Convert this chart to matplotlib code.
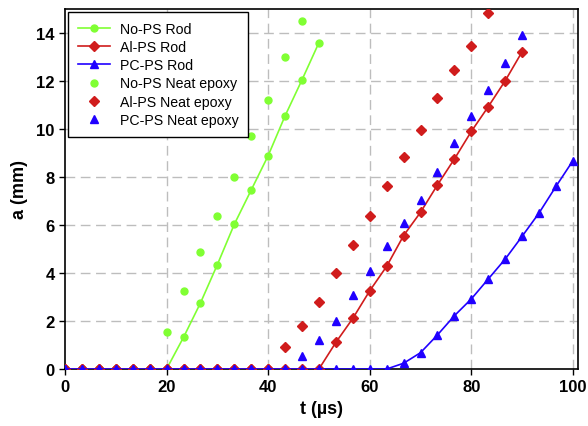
import matplotlib
matplotlib.use("Agg")
import matplotlib.pyplot as plt
import numpy as np

plt.rcParams['font.family'] = ['Liberation Sans', 'DejaVu Sans']

dt = 10.0 / 3.0

# No-PS Rod
nops_rod_t = [i * dt for i in range(16)]
nops_rod_a = [0, 0, 0, 0, 0, 0, 0, 1.32, 2.75, 4.35, 6.03, 7.46, 8.89, 10.55, 12.05, 13.6]
# Al-PS Rod
alps_rod_t = [i * dt for i in range(28)]
alps_rod_a = [0] * 16 + [1.11, 2.11, 3.26, 4.28, 5.56, 6.53, 7.67, 8.75, 9.9, 10.93, 12.01, 13.22]
# PC-PS Rod
pcps_rod_t = [i * dt for i in range(31)]
pcps_rod_a = [0] * 20 + [0.24, 0.68, 1.42, 2.22, 2.92, 3.75, 4.58, 5.53, 6.5, 7.61, 8.68]

# Neat epoxy
nops_neat_t = [i * dt for i in range(15)]
nops_neat_a = [0, 0, 0, 0, 0, 0, 1.55, 3.25, 4.86, 6.37, 7.99, 9.7, 11.2, 13.0, 14.5]
alps_neat_t = [i * dt for i in range(26)]
alps_neat_a = [0] * 13 + [0.93, 1.78, 2.78, 3.99, 5.18, 6.39, 7.64, 8.85, 9.96, 11.3, 12.46, 13.47, 14.83]
pcps_neat_t = [i * dt for i in range(28)]
pcps_neat_a = [0] * 14 + [0.56, 1.21, 1.99, 3.08, 4.1, 5.11, 6.08, 7.04, 8.19, 9.4, 10.55, 11.64, 12.74, 13.92]

x_ticks = [0, 20, 40, 60, 80, 100]
y_ticks = [0, 2, 4, 6, 8, 10, 12, 14]

green = '#80ff33'
red = '#d01c1c'
blue = '#2000ff'

fig = plt.figure(figsize=(5.88, 4.27), dpi=100)
ax = fig.add_axes([65 / 588, 1 - 370 / 427, (578 - 65) / 588, (370 - 10) / 427])

ax.plot(nops_rod_t, nops_rod_a, '-o', color=green, ms=5, lw=1.2, label='No-PS Rod', zorder=3)
ax.plot(alps_rod_t, alps_rod_a, '-D', color=red, ms=5, lw=1.2, label='Al-PS Rod', zorder=4)
ax.plot(pcps_rod_t, pcps_rod_a, '-^', color=blue, ms=5.5, lw=1.2, label='PC-PS Rod', zorder=5)
ax.plot(nops_neat_t, nops_neat_a, 'o', color=green, ms=5, label='No-PS Neat epoxy', zorder=3)
ax.plot(alps_neat_t, alps_neat_a, 'D', color=red, ms=5, label='Al-PS Neat epoxy', zorder=4)
ax.plot(pcps_neat_t, pcps_neat_a, '^', color=blue, ms=5.5, label='PC-PS Neat epoxy', zorder=5)

ax.set_xlim(0, 101)
ax.set_ylim(0, 15)
ax.set_xticks(x_ticks)
ax.set_yticks(y_ticks)
for lbl in ax.get_xticklabels() + ax.get_yticklabels():
    lbl.set_fontweight('bold')
    lbl.set_fontsize(12)
ax.tick_params(direction='out', length=4, width=1, colors='black')

for v in x_ticks[1:]:
    ax.axvline(v, color='#bdbdbd', lw=1, ls=(0, (7, 4)), zorder=1)
for v in y_ticks[1:]:
    ax.axhline(v, color='#bdbdbd', lw=1, ls=(0, (7, 4)), zorder=1)

ax.set_xlabel('t (µs)', fontsize=13, fontweight='bold', labelpad=4)
ax.set_ylabel('a (mm)', fontsize=13, fontweight='bold', labelpad=6)

for s in ax.spines.values():
    s.set_linewidth(1.2)
    s.set_color('black')

leg = ax.legend(loc='upper left', fontsize=10.2, frameon=True, fancybox=False,
                edgecolor='black', framealpha=1, borderaxespad=0.2,
                handlelength=2.3, handletextpad=0.65, labelspacing=0.3,
                borderpad=0.7)
leg.get_frame().set_linewidth(1.0)

fig.savefig('out.png', dpi=100)
